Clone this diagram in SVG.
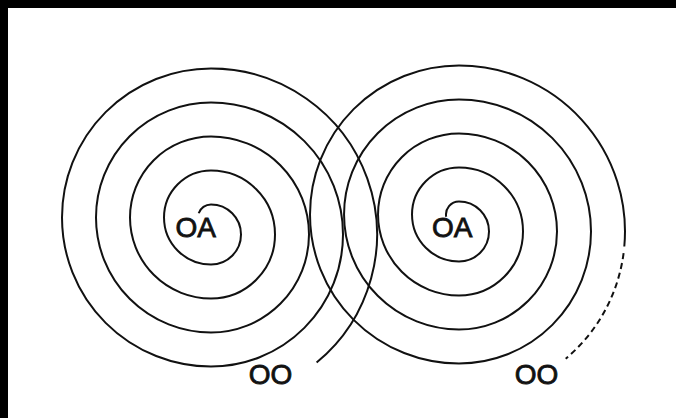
<svg xmlns="http://www.w3.org/2000/svg" width="676" height="418" viewBox="0 0 676 418">
  <style>
    .sp { fill: none; stroke: #111; stroke-width: 2; stroke-linecap: butt; }
    .dash { stroke-dasharray: 6 4; }
    .lbl { font-family: "Liberation Sans", Arial, sans-serif; font-size: 28px; fill: #111; stroke: #111; stroke-width: 0.8; }
  </style>
  <rect x="0" y="0" width="676" height="418" fill="#ffffff"/>
  <g id="frame">
    <rect x="0" y="0" width="676" height="8" fill="#000"/>
    <rect x="0" y="0" width="8" height="418" fill="#000"/>
  </g>
  <g id="connectors">
    <path id="spiral-left" class="sp" d="M198.7,213.3 A13,13 0 0 1 211,204.5 A30,30 0 0 1 211,264.5 A47,47 0 0 1 211,170.5 A64,64 0 0 1 211,298.5 A81,81 0 0 1 211,136.5 A98,98 0 0 1 211,332.5 A115,115 0 0 1 211,102.5 A132,132 0 0 1 211,366.5 A149,149 0 0 1 211,68.5 A166,166 0 0 1 316.6,362.6"/>
    <path id="spiral-right" class="sp" d="M446.2,216.8 A13,13 0 0 1 459,201.5 A30,30 0 0 1 459,261.5 A47,47 0 0 1 459,167.5 A64,64 0 0 1 459,295.5 A81,81 0 0 1 459,133.5 A98,98 0 0 1 459,329.5 A115,115 0 0 1 459,99.5 A132,132 0 0 1 459,363.5 A149,149 0 0 1 459,65.5 A166,166 0 0 1 624.3,246.5"/>
    <path id="spiral-right-dashed" class="sp dash" d="M623.6,253.2 A166,166 0 0 1 565.7,358.7"/>
  </g>
  <g id="node-oa-left"><text class="lbl" x="175.4" y="237">OA</text></g>
  <g id="node-oa-right"><text class="lbl" x="432" y="237">OA</text></g>
  <g id="node-oo-left"><text class="lbl" x="248.7" y="384">OO</text></g>
  <g id="node-oo-right"><text class="lbl" x="514.7" y="384">OO</text></g>
</svg>
